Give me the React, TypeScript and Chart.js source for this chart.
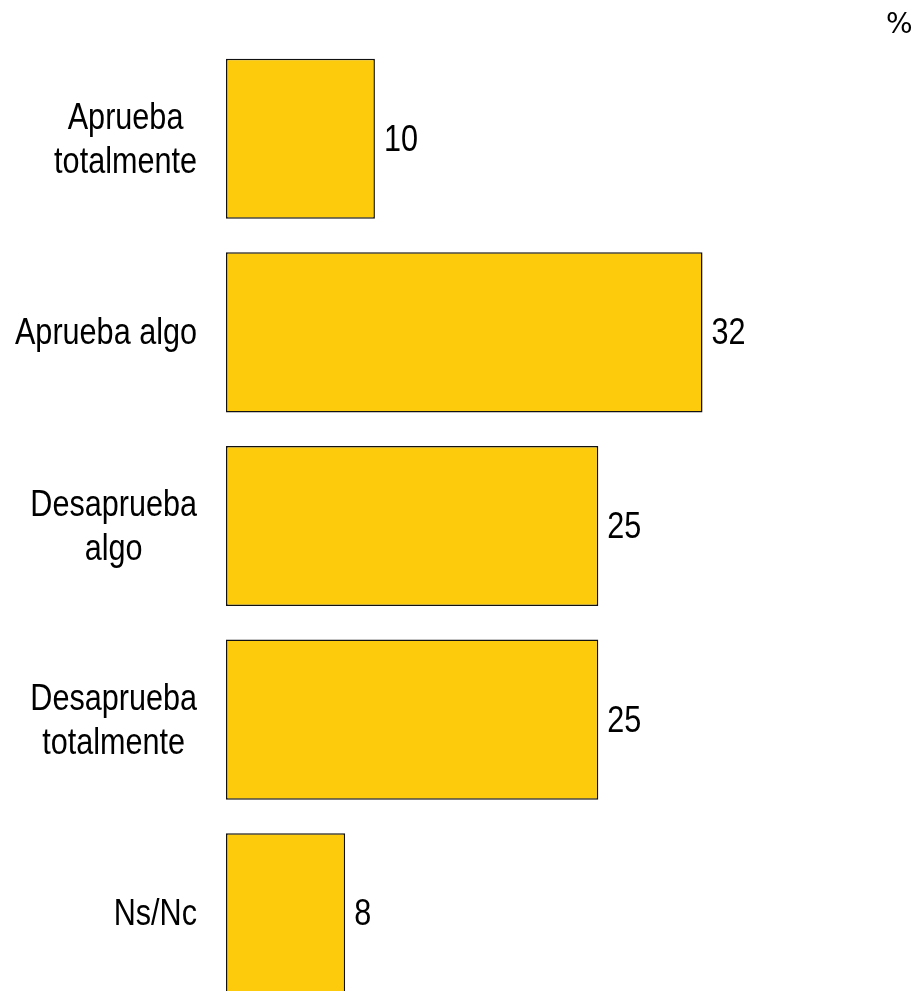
import React, { useEffect, useRef } from "react";
import { Chart, registerables } from "chart.js";

Chart.register(...registerables);

const categories: string[][] = [
  ["Aprueba", "totalmente"],
  ["Aprueba algo"],
  ["Desaprueba", "algo"],
  ["Desaprueba", "totalmente"],
  ["Ns/Nc"],
];
const values: number[] = [10, 32, 25, 25, 8];
const unitLabel = "%";

const FONT = '"Liberation Sans", Arial, sans-serif';
const SQUEEZE = 0.85;
const LINE_H = 44;

export default function App() {
  const ref = useRef<HTMLCanvasElement | null>(null);

  useEffect(() => {
    const canvas = ref.current;
    if (!canvas) return;
    const textPlugin = {
      id: "textPlugin",
      afterDatasetsDraw(chart: any) {
        const ctx = chart.ctx;
        const meta = chart.getDatasetMeta(0);
        const yScale = chart.scales.y;
        ctx.save();
        ctx.fillStyle = "#000";
        ctx.font = `36px ${FONT}`;
        ctx.textBaseline = "middle";
        // value labels
        ctx.textAlign = "left";
        meta.data.forEach((bar: any, i: number) => {
          ctx.save();
          ctx.translate(bar.x + 9, bar.y + 2);
          ctx.scale(SQUEEZE, 1);
          ctx.fillText(String(values[i]), 0, 0);
          ctx.restore();
        });
        // category labels: block right-aligned, lines centred within block
        ctx.textAlign = "center";
        const xRight = chart.chartArea.left - 29;
        categories.forEach((lines, i) => {
          const cy = yScale.getPixelForValue(i);
          const n = lines.length;
          const maxW = Math.max(...lines.map((l) => ctx.measureText(l).width * SQUEEZE));
          const cx = xRight - maxW / 2;
          lines.forEach((line, j) => {
            const ly = cy + (j - (n - 1) / 2) * LINE_H + 2;
            ctx.save();
            ctx.translate(cx, ly);
            ctx.scale(SQUEEZE, 1);
            ctx.fillText(line, 0, 0);
            ctx.restore();
          });
        });
        ctx.restore();
      },
    };
    const chart = new Chart(canvas, {
      type: "bar",
      data: {
        labels: categories.map((l) => l.join(" ")),
        datasets: [
          {
            data: values,
            backgroundColor: "#FDCB0B",
            borderColor: "#111",
            borderWidth: 1.5,
            borderSkipped: false,
            categoryPercentage: 1,
            barPercentage: 0.827,
          },
        ],
      },
      options: {
        indexAxis: "y",
        animation: false,
        responsive: false,
        maintainAspectRatio: false,
        layout: { padding: { top: 42, right: 7, bottom: 0, left: 0 } },
        plugins: {
          legend: { display: false },
          tooltip: { enabled: false },
        },
        scales: {
          x: {
            display: false,
            min: 0,
            max: 46,
          },
          y: {
            grid: { display: false, drawTicks: false },
            border: { display: false },
            ticks: { display: false },
            afterFit(scale: any) {
              scale.width = 226;
              scale.paddingTop = 0;
              scale.paddingBottom = 0;
            },
          },
        },
      },
      plugins: [textPlugin],
    });
    return () => chart.destroy();
  }, []);

  return (
    <div
      style={{
        position: "fixed",
        left: 0,
        top: 0,
        width: 918,
        height: 991,
        overflow: "hidden",
        background: "#fff",
      }}
    >
      <canvas
        ref={ref}
        width={918}
        height={1010}
        style={{ display: "block", width: 918, height: 1010 }}
      />
      <div
        style={{
          position: "absolute",
          left: 886,
          top: 10,
          fontFamily: '"DejaVu Sans", sans-serif',
          fontSize: 28,
          color: "#000",
          lineHeight: 1,
        }}
      >
        {unitLabel}
      </div>
    </div>
  );
}
